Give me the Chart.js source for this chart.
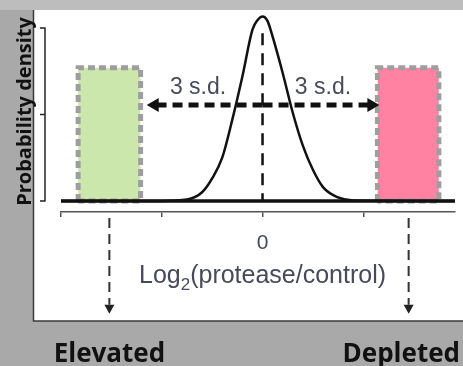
<!DOCTYPE html>
<html>
<head>
<meta charset="utf-8">
<script src="https://cdn.jsdelivr.net/npm/chart.js@4.4.1/dist/chart.umd.min.js"></script>
<style>
  html, body { margin: 0; padding: 0; background: #a9a9a9; }
  #wrap { width: 463px; height: 366px; position: relative; }
</style>
</head>
<body>
<div id="wrap"><canvas id="chart" width="463" height="366"></canvas></div>
<script>
'use strict';

// log2 ratio axis (1 unit = one tick step)
const xTicks = [-2, -1, 0, 1];
const xRange = [-2, 1.91];
const yRange = [-0.064, 1.104];
const bracketTicks = [0, 0.5, 1];

// normal curve
const curveX = [-2, -1.0, -0.75, -0.6, -0.5, -0.4, -0.3, -0.2, -0.1, -0.05, 0, 0.05, 0.1, 0.2, 0.3, 0.4, 0.5, 0.6, 0.75, 0.9, 1.91];
const curveY = [0, 0, 0.008, 0.05, 0.13, 0.25, 0.47, 0.72, 0.99, 1.045, 1.067, 1.04, 0.95, 0.74, 0.51, 0.32, 0.18, 0.08, 0.02, 0.003, 0];

// selection boxes
const elevatedBox = [-1.83, -1.21];
const depletedBox = [1.14, 1.75];
const boxTop = 0.77;

// 3 s.d. arrows and guide lines
const sdLevel = 0.555;
const sdLeftEnd = -1.07;
const sdRightEnd = 1.08;
const centerLine = [0.97, 0];
const dropStart = -0.098;
const dropEnd = -0.60;
const dropX = [-1.52, 1.45];

const txt = '#474a5c';

// datasets are painted last-to-first, so marks on top go first in the list
function boxFill(xs, fill){
  return { data: [{x: xs[0], y: 0}, {x: xs[0], y: boxTop}, {x: xs[1], y: boxTop}, {x: xs[1], y: 0}],
    showLine: true, fill: 'origin', backgroundColor: fill, borderColor: 'rgba(0,0,0,0)', borderWidth: 1, pointRadius: 0 };
}
function boxEdge(xs){
  return { data: [{x: xs[0], y: 0}, {x: xs[0], y: boxTop}, {x: xs[1], y: boxTop}, {x: xs[1], y: 0}, {x: xs[0], y: 0}],
    showLine: true, fill: false, borderColor: '#9e9e9e', borderWidth: 5,
    borderDash: [7, 4], borderJoinStyle: 'miter', pointRadius: 0 };
}

function arrow(x0, y0, x1, y1, opt){
  return Object.assign({ data: [{x: x0, y: y0}, {x: x1, y: y1}], showLine: true, fill: false,
    borderColor: '#111', pointBackgroundColor: '#111', pointBorderWidth: 0, pointStyle: 'triangle' }, opt);
}

const decor = {
  id: 'decor',
  beforeDraw(c){
    const g = c.ctx;
    g.save();
    g.fillStyle = '#a9a9a9'; g.fillRect(0, 0, c.width, c.height);
    g.fillStyle = '#bdbdbd'; g.fillRect(0, 0, c.width, 10);
    g.fillStyle = '#ffffff'; g.fillRect(33, 10, c.width - 33, 311);
    g.strokeStyle = '#3a3a3a'; g.lineWidth = 1.5;
    g.beginPath(); g.moveTo(33.5, 10); g.lineTo(33.5, 321); g.lineTo(c.width, 321); g.stroke();
    g.restore();
  },
  afterDraw(c){
    const g = c.ctx, xs = c.scales.x, ys = c.scales.y;
    g.save();
    // y bracket
    g.strokeStyle = '#222'; g.lineWidth = 1.5;
    g.beginPath();
    g.moveTo(45, ys.getPixelForValue(1)); g.lineTo(45, ys.getPixelForValue(0));
    bracketTicks.forEach(v => { const p = ys.getPixelForValue(v); g.moveTo(40, p); g.lineTo(45.7, p); });
    g.stroke();

    // heads of the drop arrows
    g.fillStyle = '#222';
    dropX.forEach(v => {
      const px = xs.getPixelForValue(v), py = ys.getPixelForValue(dropEnd);
      g.beginPath(); g.moveTo(px - 5, py); g.lineTo(px + 5, py); g.lineTo(px, py + 9); g.closePath(); g.fill();
    });

    // y title
    g.fillStyle = '#111';
    g.font = "bold 20px 'Open Sans'";
    g.textAlign = 'center'; g.textBaseline = 'alphabetic';
    g.translate(31, (ys.getPixelForValue(1) + ys.getPixelForValue(0)) / 2 - 3);
    g.rotate(-Math.PI / 2);
    g.fillText('Probability density', 0, 0);
    g.setTransform(1, 0, 0, 1, 0, 0);

    // x title with subscript
    g.fillStyle = txt; g.textAlign = 'left';
    const big = "25px 'Liberation Sans'", small = "17px 'Liberation Sans'";
    g.font = big; const w1 = g.measureText('Log').width, w3 = g.measureText('(protease/control)').width;
    g.font = small; const w2 = g.measureText('2').width;
    let x = xs.getPixelForValue(0) - (w1 + w2 + w3) / 2;
    g.font = big; g.fillText('Log', x, 283); x += w1;
    g.font = small; g.fillText('2', x, 290); x += w2;
    g.font = big; g.fillText('(protease/control)', x, 283);

    // 3 s.d. labels
    g.font = "23px 'Liberation Sans'"; g.textAlign = 'center';
    const sy = ys.getPixelForValue(sdLevel) - 11;
    g.fillText('3 s.d.', xs.getPixelForValue(-0.64), sy);
    g.fillText('3 s.d.', xs.getPixelForValue(0.60), sy);

    // bottom labels
    g.fillStyle = '#111'; g.font = "bold 26px 'Open Sans'";
    g.fillText('Elevated', xs.getPixelForValue(dropX[0]), 362);
    g.textAlign = 'right';
    g.fillText('Depleted', 460, 362);
    g.restore();
  }
};

new Chart(document.getElementById('chart'), {
  type: 'scatter',
  data: { datasets: [
    arrow(0, sdLevel, sdLeftEnd, sdLevel, { borderWidth: 5, borderDash: [10, 6], pointRadius: [0, 8], rotation: 270 }),
    arrow(0, sdLevel, sdRightEnd, sdLevel, { borderWidth: 5, borderDash: [10, 6], pointRadius: [0, 8], rotation: 90 }),
    { data: [{x: 0, y: centerLine[0]}, {x: 0, y: centerLine[1]}], showLine: true, borderColor: '#111', borderWidth: 2.5,
      borderDash: [12, 8], pointRadius: 0 },
    { data: curveX.map((v, i) => ({x: v, y: curveY[i]})), showLine: true, borderColor: '#111', borderWidth: 2.5,
      pointRadius: 0, cubicInterpolationMode: 'monotone' },
    { data: [{x: xRange[0], y: 0}, {x: xRange[1], y: 0}], showLine: true, borderColor: '#111', borderWidth: 3.5, pointRadius: 0 },
    boxEdge(elevatedBox),
    boxEdge(depletedBox),
    boxFill(elevatedBox, '#cce7ab'),
    boxFill(depletedBox, '#ff82a3'),
    arrow(dropX[0], dropStart, dropX[0], dropEnd, { borderColor: '#333', borderWidth: 2, borderDash: [10, 6], pointRadius: 0, clip: false }),
    arrow(dropX[1], dropStart, dropX[1], dropEnd, { borderColor: '#333', borderWidth: 2, borderDash: [10, 6], pointRadius: 0, clip: false })
  ] },
  options: {
    responsive: false, animation: false, events: [],
    layout: { padding: { left: 61, top: 10, right: 0, bottom: 0 } },
    plugins: { legend: { display: false }, tooltip: { enabled: false } },
    scales: {
      x: { type: 'linear', min: xRange[0], max: xRange[1],
        afterBuildTicks: s => { s.ticks = xTicks.map(v => ({ value: v })); },
        afterFit: s => { s.height = 154; },
        border: { display: true, color: '#555', width: 1.5 },
        grid: { drawOnChartArea: false, drawTicks: true, tickLength: 5, color: '#555', lineWidth: 1.5 },
        ticks: { autoSkip: false, maxRotation: 0, padding: 14, color: txt, font: { family: "'Liberation Sans'", size: 21 },
          callback: v => v === 0 ? '0' : '' } },
      y: { display: false, min: yRange[0], max: yRange[1] }
    }
  },
  plugins: [decor]
});
</script>
</body>
</html>
